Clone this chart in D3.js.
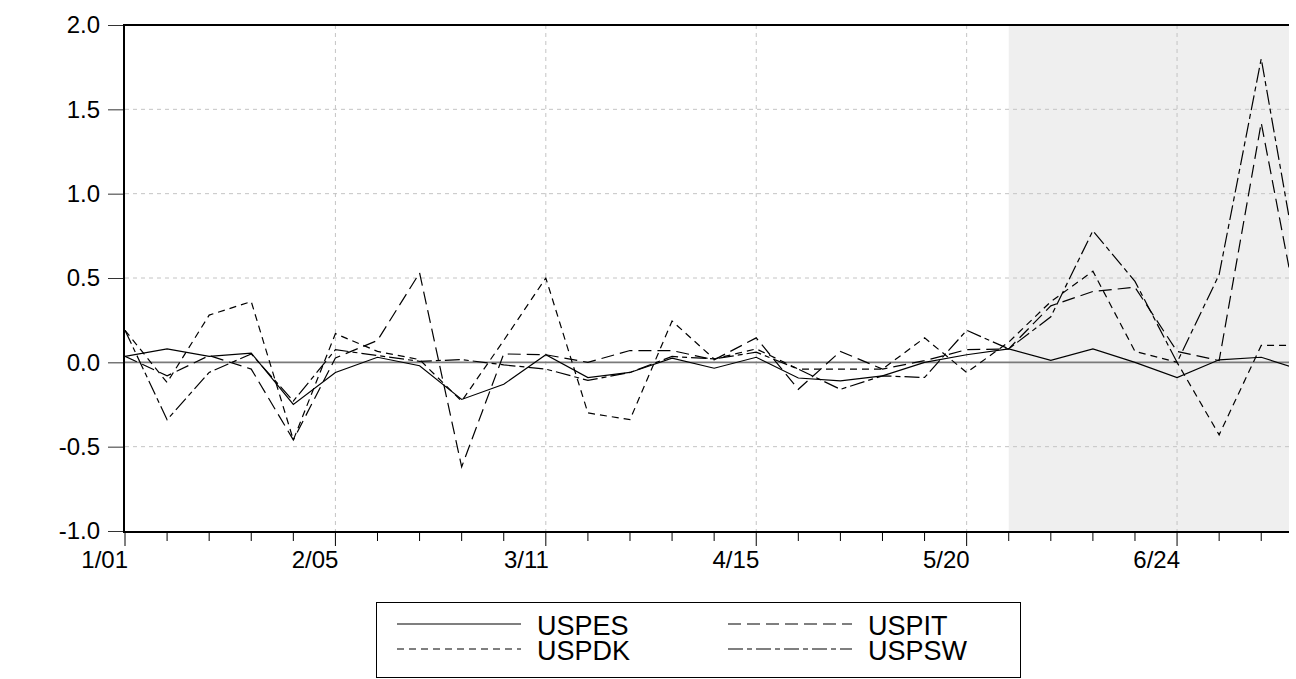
<!DOCTYPE html>
<head>
<meta charset="utf-8">
<style>
body { margin: 0; background: #fff; }
text { font-family: "Liberation Sans", Arial, sans-serif; fill: #000; }
.grid line { stroke: #c4c4c4; stroke-dasharray: 4,4; stroke-width: 1; }
.series { fill: none; stroke: #000; stroke-width: 1.2; }
</style>
</head>
<body>
<svg width="1296" height="679"></svg>
<script src="https://cdn.jsdelivr.net/npm/d3@7/dist/d3.min.js"></script>
<script type="text/javascript">

// weekly dates (leap year)
var dates = ["1/01","1/08","1/15","1/22","1/29","2/05","2/12","2/19","2/26","3/04",
  "3/11","3/18","3/25","4/01","4/08","4/15","4/22","4/29","5/06","5/13",
  "5/20","5/27","6/03","6/10","6/17","6/24","7/01","7/08","7/15"];

var tickLabels = ["1/01","2/05","3/11","4/15","5/20","6/24"];
var yTicks = [-1.0, -0.5, 0.0, 0.5, 1.0, 1.5, 2.0];

var USPES = [0.035,0.08,0.035,0.055,-0.25,-0.06,0.03,-0.02,-0.22,-0.13,
  0.045,-0.09,-0.06,0.025,-0.035,0.03,-0.093,-0.11,-0.08,0.0,
  0.045,0.08,0.012,0.08,0.0,-0.09,0.015,0.03,-0.05];
var USPIT = [0.036,-0.08,0.04,-0.04,-0.46,0.026,0.13,0.53,-0.62,0.05,
  0.045,0.0,0.07,0.07,0.015,0.145,-0.16,0.065,-0.04,0.01,
  0.075,0.08,0.335,0.42,0.445,0.065,0.01,1.42,0.12];
var USPDK = [0.19,-0.12,0.28,0.36,-0.46,0.17,0.065,0.016,-0.23,0.13,
  0.5,-0.30,-0.34,0.245,0.02,0.08,-0.04,-0.04,-0.04,0.145,
  -0.06,0.12,0.36,0.54,0.065,0.0,-0.43,0.10,0.10];
var USPSW = [0.19,-0.34,-0.06,0.05,-0.23,0.075,0.04,0.006,0.016,-0.015,
  -0.04,-0.107,-0.06,0.035,0.02,0.06,-0.04,-0.16,-0.08,-0.09,
  0.19,0.08,0.27,0.78,0.48,0.0,0.52,1.80,0.38];

var shadeFrom = "5/27";

var seriesNames = ["USPES","USPIT","USPDK","USPSW"];
var seriesData = [USPES, USPIT, USPDK, USPSW];
var dashes = ["none", "13,6", "7,5", "15,4,5,4"];

var svg = d3.select("svg");
var mLeft = 125, mRight = 1289, mTop = 25, mBottom = 531;

// x is the week index; the window cuts the last week part way
var x = d3.scaleLinear().domain([0, 27.66]).range([mLeft, mRight]);
var y = d3.scaleLinear().domain([-1, 2]).range([mBottom, mTop]);

svg.append("defs").append("clipPath").attr("id", "plotclip")
  .append("rect").attr("x", mLeft).attr("y", mTop)
  .attr("width", mRight - mLeft).attr("height", mBottom - mTop);

// shaded forecast region
var shadeX = x(dates.indexOf(shadeFrom));
svg.append("rect")
  .attr("x", shadeX)
  .attr("y", mTop)
  .attr("width", mRight - shadeX)
  .attr("height", mBottom - mTop)
  .style("fill", "#efefef");

// grid
var majorIdx = tickLabels.map(function(d){ return dates.indexOf(d); });
var grid = svg.append("g").attr("class", "grid");
grid.selectAll(".hg").data(yTicks.filter(function(d){ return d !== 0 && d !== 2 && d !== -1; }))
  .enter().append("line")
  .attr("x1", mLeft).attr("x2", mRight)
  .attr("y1", function(d){ return y(d); }).attr("y2", function(d){ return y(d); });
grid.selectAll(".vg").data(majorIdx.filter(function(d){ return d > 0; }))
  .enter().append("line")
  .attr("y1", mTop).attr("y2", mBottom)
  .attr("x1", function(d){ return x(d); }).attr("x2", function(d){ return x(d); });

// zero line
svg.append("line")
  .attr("x1", mLeft).attr("x2", mRight)
  .attr("y1", y(0)).attr("y2", y(0))
  .style("stroke", "#7a7a7a").style("stroke-width", 1.6);

// series
var line = d3.line()
  .x(function(d, i){ return x(i); })
  .y(function(d){ return y(d); });

var plot = svg.append("g").attr("clip-path", "url(#plotclip)");
seriesData.forEach(function(s, k){
  plot.append("path")
    .datum(s)
    .attr("class", "series")
    .attr("d", line)
    .style("stroke-dasharray", dashes[k]);
});

// y axis
var yAxis = d3.axisLeft(y).tickValues(yTicks)
  .tickFormat(function(d){ return d.toFixed(1); })
  .tickSize(16).tickPadding(8);
var gy = svg.append("g").attr("transform", "translate(" + (mLeft - 1) + ",0)").call(yAxis);
gy.select(".domain").remove();
gy.selectAll(".tick line").style("stroke", "#333");
gy.selectAll("text").style("font-size", "24px").style("font-family", "Liberation Sans, Arial, sans-serif");

// x axis: weekly minor ticks, labelled major ticks
var weeks = d3.range(0, dates.length).filter(function(i){ return x(i) <= mRight; });
var gx = svg.append("g");
gx.selectAll(".xt").data(weeks).enter().append("line")
  .attr("x1", function(d){ return x(d); }).attr("x2", function(d){ return x(d); })
  .attr("y1", mBottom)
  .attr("y2", function(d){ return mBottom + (majorIdx.indexOf(d) >= 0 ? 15 : 10); })
  .style("stroke", "#000").style("stroke-width", 1);
gx.selectAll(".xl").data(majorIdx).enter().append("text")
  .attr("x", function(d){ return x(d) + 3; })
  .attr("y", mBottom + 37)
  .attr("text-anchor", "end")
  .style("font-size", "24px")
  .text(function(d){ return dates[d]; });

// frame: left, bottom and top
svg.append("line").attr("x1", mLeft - 1).attr("x2", mLeft - 1).attr("y1", mTop - 1).attr("y2", mBottom + 2)
  .style("stroke", "#000").style("stroke-width", 2);
svg.append("line").attr("x1", mLeft - 2).attr("x2", mRight).attr("y1", mBottom + 1).attr("y2", mBottom + 1)
  .style("stroke", "#000").style("stroke-width", 2);
svg.append("line").attr("x1", mLeft - 2).attr("x2", mRight).attr("y1", mTop).attr("y2", mTop)
  .style("stroke", "#000").style("stroke-width", 2);

// legend
var lg = svg.append("g");
lg.append("rect").attr("x", 376.5).attr("y", 602.5).attr("width", 644).attr("height", 75)
  .style("fill", "#fff").style("stroke", "#000").style("stroke-width", 1);
var legendPos = [[397, 624], [728, 624], [397, 649], [728, 649]];
legendPos.forEach(function(p, k){
  lg.append("line")
    .attr("x1", p[0]).attr("x2", p[0] + 124)
    .attr("y1", p[1]).attr("y2", p[1])
    .style("stroke", "#000").style("stroke-width", 1.2)
    .style("stroke-dasharray", dashes[k]);
  lg.append("text")
    .attr("x", p[0] + 140).attr("y", p[1] + 11)
    .style("font-size", "27px")
    .text(seriesNames[k]);
});

</script>
</body>
